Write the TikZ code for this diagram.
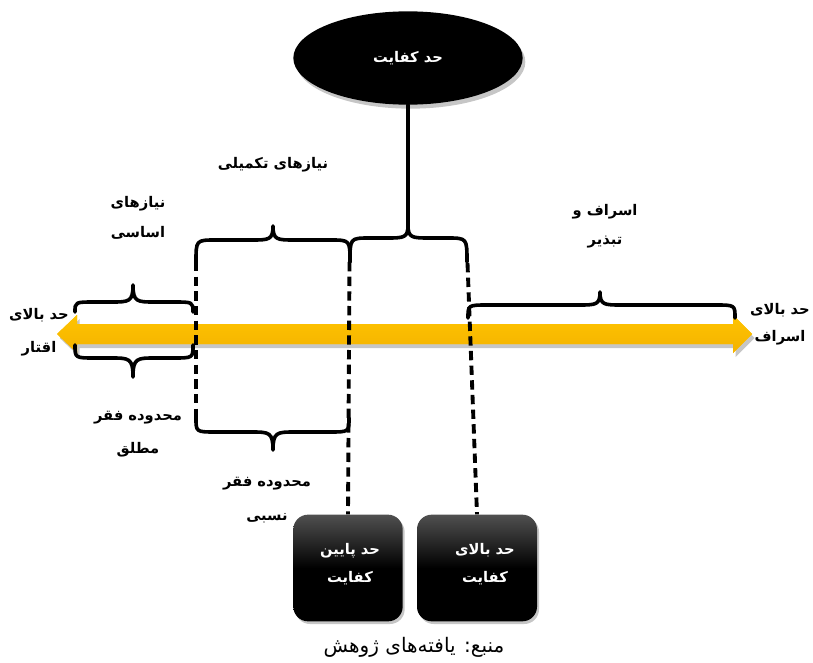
\documentclass[tikz,border=0pt]{standalone}
\usepackage{fontspec}
\usetikzlibrary{shadows,shapes.geometric}
\TeXXeTstate=1
\newfontfamily\arfont[Script=Arabic]{DejaVu Sans}
\definecolor{arrowyellow}{RGB}{255,196,0}
\definecolor{arrowyellowdark}{RGB}{244,178,0}
\definecolor{boxtop}{RGB}{80,80,80}
\newcommand\mybrace[6]{%
  \draw[brc] (#1,#4) .. controls (#1,#5) and (#1,#5) .. (#1+20,#5)
    -- (#3-22,#5) .. controls (#3-4,#5) and (#3,#5) .. (#3,#6)
    .. controls (#3,#5) and (#3+4,#5) .. (#3+22,#5)
    -- (#2-20,#5) .. controls (#2,#5) and (#2,#5) .. (#2,#4);}
\tikzset{
  brc/.style={line width=2.7pt, line cap=round, line join=round},
  dsh/.style={line width=2.9pt, dash pattern=on 7pt off 4pt},
  lbl/.style={font=\arfont\bfseries\fontsize{11}{13}\selectfont, align=center, inner sep=0pt},
  wlbl/.style={lbl, text=white},
  blackbox/.style={rounded corners=11pt, minimum height=80pt,
    top color=boxtop, bottom color=black, middle color=black,
    drop shadow={shadow xshift=1.5pt, shadow yshift=-2pt, opacity=0.45}},
}
\begin{document}
\begin{tikzpicture}[x=0.75pt,y=-0.75pt]
\useasboundingbox (0,0) rectangle (813,663);
% yellow double arrow
\fill[arrowyellow, top color=arrowyellow, bottom color=arrowyellowdark,
  drop shadow={shadow xshift=2pt, shadow yshift=-3pt, opacity=0.45}]
  (57,334) -- (77,315) -- (77,324) -- (733,324) -- (733,315) -- (752,334)
  -- (733,353) -- (733,344) -- (77,344) -- (77,353) -- cycle;
% top ellipse
\node[ellipse, fill=black, minimum width=172pt, minimum height=70pt,
  drop shadow={shadow xshift=2pt, shadow yshift=-3pt, opacity=0.45},
  font=\arfont\bfseries\fontsize{11}{13}\selectfont, text=white]
  (kef) at (408,58) {\beginR حد کفایت\endR};
% boxes
\node[blackbox, minimum width=82pt] (low) at (348,568) {};
\node[blackbox, minimum width=90pt] (high) at (477,568) {};
\node[wlbl] (lowt) at (350,564) {\beginR حد پایین\endR\\[8pt]\beginR کفایت\endR};
\node[wlbl] (hight) at (485,564) {\beginR حد بالای\endR\\[8pt]\beginR کفایت\endR};
% braces
\mybrace{75}{193}{133}{312}{302}{285}
\mybrace{75}{193}{133}{345}{358}{377}
\mybrace{196}{350}{273}{262}{240}{226}
\mybrace{350}{467}{408}{262}{238}{225}
\mybrace{468}{735}{600}{318}{305}{292}
\mybrace{196}{349}{273}{418}{432}{450}
% connectors
\coordinate (ctip) at (408,225);
\coordinate (d1t) at (196,262);
\coordinate (d1b) at (196,418);
\coordinate (d2t) at (349.5,262);
\coordinate (d3t) at (467.5,263);
\draw[brc] (kef.south) -- (ctip);
\draw[dsh] (d1t) -- (d1b);
\draw[dsh] (d2t) -- (low.north);
\draw[dsh] (d3t) -- (high.north);
% labels
\node[lbl] (basic) at (138,218) {\beginR نیازهای\endR\\[9pt]\beginR اساسی\endR};
\node[lbl] (compl) at (273,165) {\beginR نیازهای تکمیلی\endR};
\node[lbl] (waste) at (605,226) {\beginR اسراف و\endR\\[9pt]\beginR تبذیر\endR};
\node[lbl] (lefte) at (39,332) {\beginR حد بالای\endR\\[12pt]\beginR اقتار\endR};
\node[lbl] (righte) at (780,324) {\beginR حد بالای\endR\\[7pt]\beginR اسراف\endR};
\node[lbl] (abs) at (138,434) {\beginR محدوده فقر\endR\\[12pt]\beginR مطلق\endR};
\node[lbl] (rel) at (267,500) {\beginR محدوده فقر\endR\\[13pt]\beginR نسبی\endR};
\node[font=\arfont\fontsize{15}{18}\selectfont, inner sep=0pt] (src) at (414,647)
  {\beginR منبع: یافته‌های ژوهش\endR};
\end{tikzpicture}
\end{document}
